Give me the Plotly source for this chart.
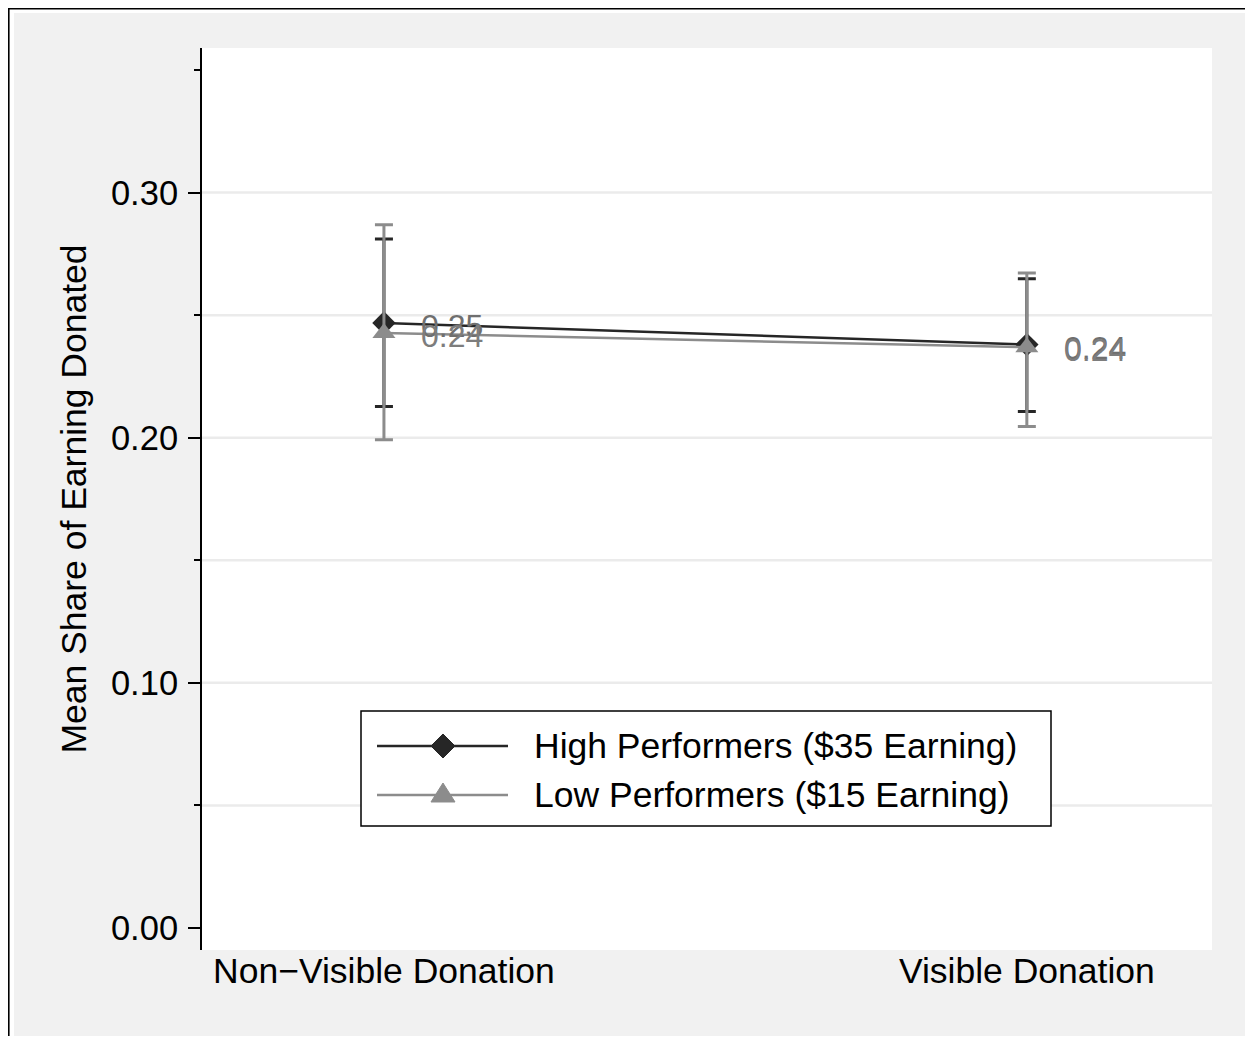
import plotly.graph_objects as go

# ---------------- data ----------------
categories = ["Non\u2212Visible Donation", "Visible Donation"]
cat_pos = [0, 1]
high_mean = [0.2468, 0.2380]
high_lo = [0.2127, 0.2107]
high_hi = [0.2811, 0.2649]
low_mean = [0.2427, 0.2369]
low_lo = [0.1992, 0.2046]
low_hi = [0.2869, 0.2672]
series_names = ["High Performers ($35 Earning)", "Low Performers ($15 Earning)"]
y_major_ticks = [0.0, 0.1, 0.2, 0.3]
y_minor_ticks = [0.05, 0.15, 0.25, 0.35]
grid_vals = [0.05, 0.10, 0.15, 0.20, 0.25, 0.30]

# ---------------- layout constants ----------------
W, H = 1237, 1028
ML, MR, MT, MB = 194, 33, 40, 86
PW, PH = W - ML - MR, H - MT - MB
FONT = "Liberation Sans, Arial, Helvetica, sans-serif"
DARK = "#262626"
GRAY = "#8c8c8c"
BG = "#f1f1f1"
FS = 35.5


def px2x(fx):
    return (fx - ML) / PW


def px2y(fy):
    return (H - MB - fy) / PH


fig = go.Figure()

fig.add_trace(go.Scatter(
    x=cat_pos, y=high_mean, name=series_names[0], mode="lines+markers",
    line=dict(color=DARK, width=2.5),
    marker=dict(symbol="diamond", size=18, color=DARK),
    error_y=dict(type="data", symmetric=False,
                 array=[h - m for h, m in zip(high_hi, high_mean)],
                 arrayminus=[m - l for m, l in zip(high_mean, high_lo)],
                 color=DARK, thickness=3, width=9),
    showlegend=False,
))
fig.add_trace(go.Scatter(
    x=cat_pos, y=low_mean, name=series_names[1], mode="lines+markers",
    line=dict(color=GRAY, width=2.5),
    marker=dict(symbol="triangle-up", size=20, color=GRAY),
    error_y=dict(type="data", symmetric=False,
                 array=[h - m for h, m in zip(low_hi, low_mean)],
                 arrayminus=[m - l for m, l in zip(low_mean, low_lo)],
                 color=GRAY, thickness=3, width=9),
    showlegend=False,
))

# value labels
annotations = []
for xs, ys, col in [(cat_pos, high_mean, "#6f6f6f"), (cat_pos, low_mean, "#7d7d7d")]:
    for xv, yv in zip(xs, ys):
        annotations.append(dict(
            x=xv, y=yv, xref="x", yref="y", text=f"{yv:.2f}", showarrow=False,
            xanchor="left", yanchor="middle", xshift=35, yshift=-3,
            font=dict(family=FONT, size=32, color=col)))

shapes = [
    # outer gray background
    dict(type="rect", xref="paper", yref="paper", layer="below",
         x0=px2x(6), x1=px2x(W + 2), y0=px2y(H + 2), y1=px2y(5),
         fillcolor=BG, line=dict(width=0)),
    # plot area white
    dict(type="rect", xref="paper", yref="paper", layer="below",
         x0=0, x1=1, y0=0, y1=1, fillcolor="white", line=dict(width=0)),
    # black border top & left
    dict(type="line", xref="paper", yref="paper", layer="above",
         x0=px2x(0), x1=px2x(W + 2), y0=px2y(0.8), y1=px2y(0.8),
         line=dict(color="black", width=1.6)),
    dict(type="line", xref="paper", yref="paper", layer="above",
         x0=px2x(0.8), x1=px2x(0.8), y0=px2y(0), y1=px2y(H + 2),
         line=dict(color="black", width=1.6)),
]
for g in grid_vals:
    shapes.append(dict(type="line", xref="paper", yref="y", layer="below",
                       x0=0, x1=1, y0=g, y1=g,
                       line=dict(color="#ebebeb", width=2.5)))

# ---------------- legend (drawn as a key box) ----------------
LX0, LX1, LY0, LY1 = 353, 1043, 703, 818
ROWS = [738, 787]
SAMPLE_X0, SAMPLE_X1, SYM_X, TEXT_X = 369, 500, 435, 524
shapes.append(dict(type="rect", xref="paper", yref="paper", layer="above",
                   x0=px2x(LX0), x1=px2x(LX1), y0=px2y(LY1), y1=px2y(LY0),
                   fillcolor="white", line=dict(color="black", width=1.5)))
legend_styles = [(DARK, "diamond"), (GRAY, "triangle")]
for (col, sym), ry, name in zip(legend_styles, ROWS, series_names):
    shapes.append(dict(type="line", xref="paper", yref="paper", layer="above",
                       x0=px2x(SAMPLE_X0), x1=px2x(SAMPLE_X1),
                       y0=px2y(ry), y1=px2y(ry), line=dict(color=col, width=2.5)))
    if sym == "diamond":
        pts = [(SYM_X - 12, ry), (SYM_X, ry - 12), (SYM_X + 12, ry), (SYM_X, ry + 12)]
    else:
        pts = [(SYM_X - 12, ry + 7), (SYM_X + 12, ry + 7), (SYM_X, ry - 12)]
    path = "M" + " L".join(f"{px2x(a):.5f},{px2y(b):.5f}" for a, b in pts) + " Z"
    shapes.append(dict(type="path", xref="paper", yref="paper", layer="above",
                       path=path, fillcolor=col, line=dict(color=col, width=1)))
    annotations.append(dict(x=px2x(TEXT_X), y=px2y(ry), xref="paper", yref="paper",
                            text=name, showarrow=False, xanchor="left", yanchor="middle",
                            font=dict(family=FONT, size=FS, color="black")))

fig.update_layout(
    width=W, height=H,
    margin=dict(l=ML, r=MR, t=MT, b=MB, pad=0),
    paper_bgcolor="white", plot_bgcolor="rgba(0,0,0,0)",
    font=dict(family=FONT, size=FS, color="black"),
    showlegend=False,
    shapes=shapes,
    annotations=annotations,
)

fig.update_xaxes(
    range=[-0.283, 1.288], tickvals=cat_pos, ticktext=categories,
    showgrid=False, zeroline=False, showline=False, ticks="",
    tickfont=dict(family=FONT, size=FS, color="black"),
    ticklabelstandoff=-4,
)
fig.update_yaxes(
    range=[-0.009, 0.359], tickvals=y_major_ticks, tickformat=".2f",
    showgrid=False, zeroline=False, showline=True, linecolor="black", linewidth=2,
    ticks="outside", ticklen=12, tickwidth=2, tickcolor="black",
    minor=dict(tickvals=y_minor_ticks, ticks="outside", ticklen=6, tickwidth=2,
               tickcolor="black", showgrid=False),
    tickfont=dict(family=FONT, size=34.5, color="black"),
    ticklabelstandoff=3,
    title=dict(text="Mean Share of Earning Donated",
               font=dict(family=FONT, size=FS, color="black"), standoff=14),
)

fig.write_html("out.html")
